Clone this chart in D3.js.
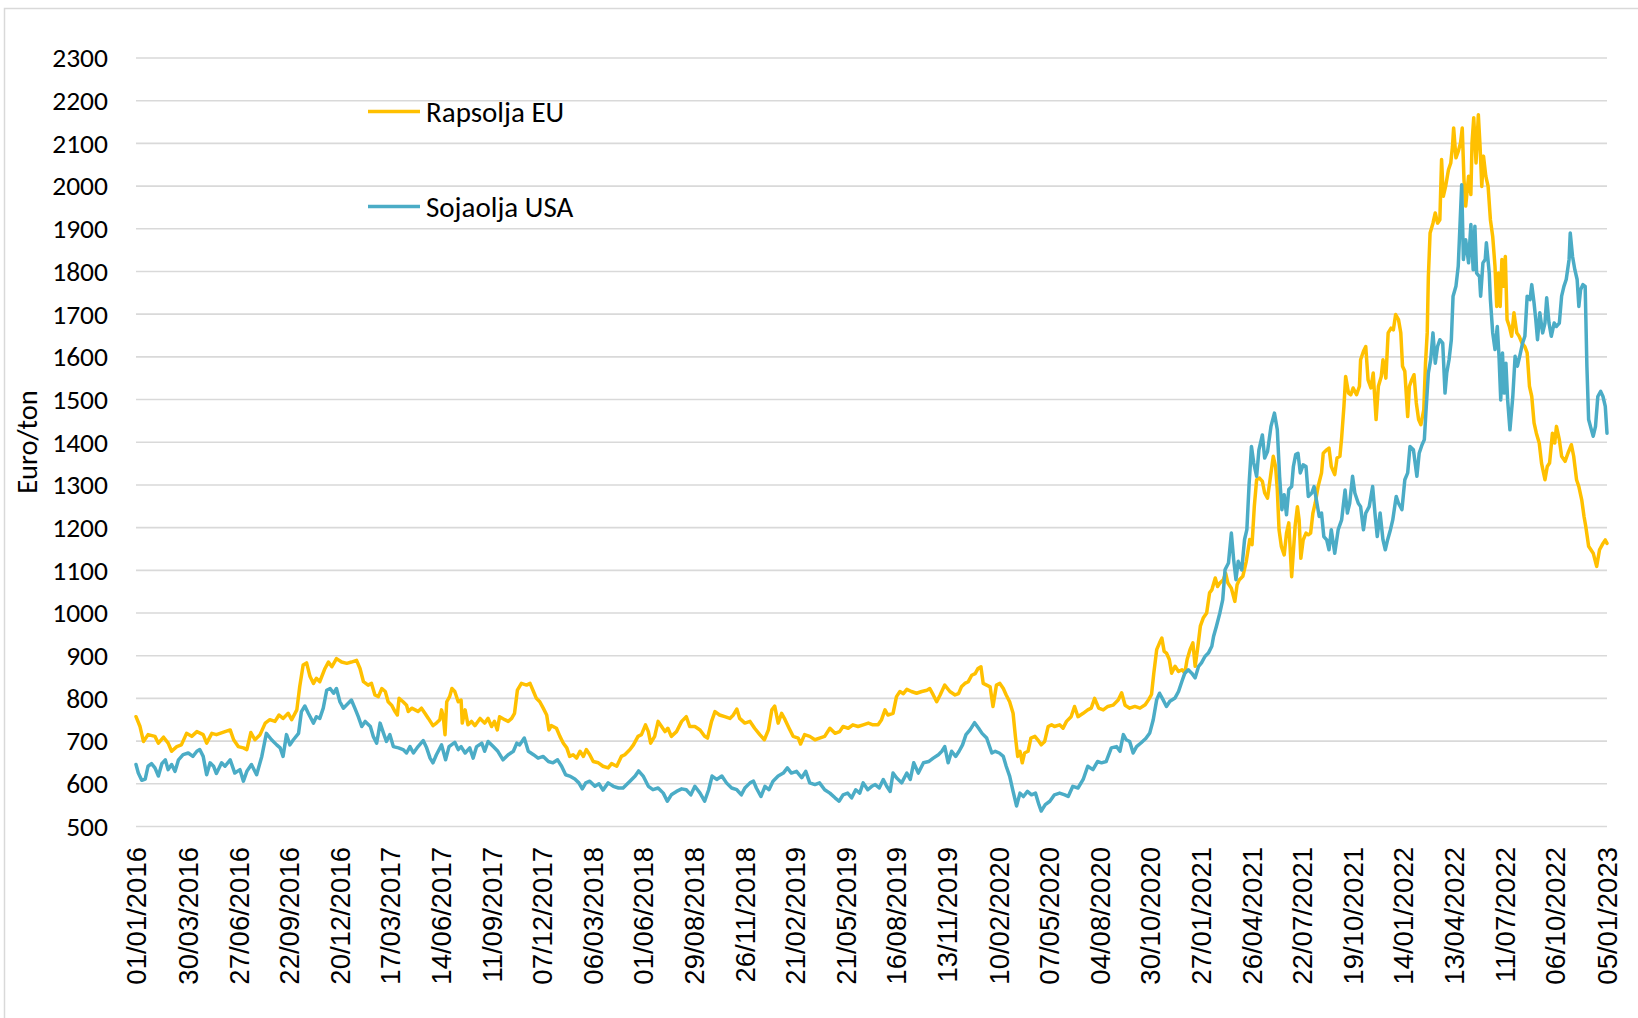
<!DOCTYPE html>
<html>
<head>
<meta charset="utf-8">
<script src="https://cdn.jsdelivr.net/npm/d3@7"></script>
<style>
  html, body { margin: 0; padding: 0; background: #ffffff; }
  svg { display: block; }
</style>
</head>
<body>
<svg id="chart" width="1638" height="1018"></svg>
<script>
// Price series: [days since 01/01/2016, euro per ton]
const startDate = new Date(2016, 0, 1);
const endDay = 2561;   // 05/01/2023

const rapsoljaEU = [
  [0,756],[7,733],[13,698],[21,714],[33,710],[39,694],[48,708],[56,694],[62,675],[71,686],[79,690],[88,717],[97,710],
  [106,721],[117,714],[123,694],[132,717],[140,714],[155,721],[164,725],[170,702],[178,686],[187,683],[193,679],[200,719],
  [207,702],[216,714],[225,741],[233,749],[242,745],[249,760],[256,752],[265,764],[271,749],[280,772],[285,826],[291,877],
  [297,882],[303,850],[309,834],[314,846],[320,838],[329,869],[335,884],[341,873],[349,892],[358,884],[367,881],[375,884],
  [384,888],[390,869],[396,838],[404,830],[410,834],
  [416,807],[422,803],[428,822],[434,815],[439,791],[445,783],[451,768],[455,760],[458,799],[465,791],[471,783],[474,768],
  [480,776],[486,772],[491,768],[497,776],[503,764],[509,752],[517,735],[523,741],[529,749],[532,772],[535,756],[538,714],
  [541,791],[546,803],[550,822],[555,815],[561,791],[566,795],[568,741],[573,772],[578,737],[584,745],[590,735],[599,752],
  [607,741],[613,752],[619,733],[624,745],[629,725],[633,756],[642,749],[648,745],[654,752],[659,764],[664,818],[671,834],
  [680,830],[686,834],[692,815],[697,799],[703,791],[709,776],[715,760],[719,725],[723,735],[732,729],[738,710],[744,694],
  [750,683],[755,663],[761,667],[767,659],[773,675],[779,663],[784,679],[790,667],[796,651],[805,648],[813,640],[822,636],
  [828,646],[837,640],[845,663],
  [851,667],[860,679],[866,690],[874,710],[880,714],[887,737],[892,721],[896,694],[903,710],[909,745],[915,733],[921,721],
  [926,729],[932,710],[941,721],[950,745],[958,756],[964,733],[973,733],[982,725],[990,710],[995,706],[1002,745],[1008,768],
  [1016,760],[1025,756],[1034,752],[1040,760],[1046,774],[1051,752],[1060,741],[1069,745],[1077,729],[1086,714],[1094,702],
  [1101,725],[1107,772],[1112,781],[1118,741],[1124,764],[1130,749],[1137,729],[1144,710],[1153,706],[1157,692],[1164,714],
  [1173,710],[1182,702],[1190,706],[1199,710],[1208,729],[1217,717],[1225,721],[1231,733],[1240,729],[1248,737],[1257,733],
  [1266,737],[1275,741],[1283,737],
  [1292,737],[1298,749],[1304,772],[1309,760],[1318,764],[1324,803],[1330,815],[1336,810],[1342,820],[1350,815],[1359,811],
  [1368,815],[1377,818],[1382,822],[1388,807],[1394,791],[1400,807],[1408,830],[1417,815],[1426,807],[1432,810],[1437,826],
  [1443,834],[1449,838],[1455,853],[1461,857],[1466,869],[1471,873],[1475,834],[1481,830],[1487,826],[1492,780],[1498,830],
  [1504,834],[1510,822],[1515,807],[1521,791],[1527,764],[1531,710],[1535,663],[1539,675],[1543,648],[1547,671],[1553,675],
  [1558,706],[1565,710],[1570,702],[1576,690],[1582,698],[1588,733],[1594,737],[1599,733],[1608,737],[1614,729],[1620,745],
  [1628,756],[1634,780],[1640,756],[1649,764],[1657,772],[1663,776],[1669,799],[1676,776],[1684,772],[1692,780],[1701,783],
  [1710,795],[1716,812],[1722,783],[1730,776],[1739,780],
  [1748,776],[1757,784],[1763,796],[1768,808],[1772,858],[1777,913],[1782,929],[1786,940],[1790,909],[1794,905],[1799,890],
  [1803,858],[1809,874],[1815,862],[1821,866],[1826,858],[1830,890],[1835,913],[1840,929],[1844,874],[1848,913],[1853,968],
  [1858,987],[1864,999],[1869,1046],[1873,1053],[1879,1081],[1883,1061],[1887,1069],[1893,1077],[1897,1092],[1901,1069],
  [1907,1057],[1913,1026],[1917,1065],[1921,1077],[1927,1085],[1933,1120],[1939,1171],[1943,1159],[1947,1249],[1951,1311],
  [1956,1315],[1961,1307],[1965,1280],[1970,1268],[1976,1327],[1980,1366],[1984,1342],[1987,1288],[1990,1194],[1994,1155],
  [1999,1135],[2003,1186],[2007,1210],
  [2012,1084],[2018,1202],[2022,1248],[2025,1217],[2028,1127],[2032,1170],[2037,1186],[2041,1182],[2045,1186],[2049,1233],
  [2053,1256],[2058,1295],[2064,1327],[2067,1373],[2073,1381],[2077,1385],[2081,1342],[2087,1323],[2091,1362],[2096,1366],
  [2099,1409],[2103,1483],[2106,1553],[2111,1514],[2115,1510],[2119,1526],[2125,1510],[2130,1530],[2132,1592],[2137,1612],
  [2141,1623],[2145,1545],[2150,1526],[2154,1561],[2159,1452],[2163,1530],[2168,1553],[2171,1592],[2176,1549],[2180,1655],
  [2185,1666],[2189,1662],[2193,1698],[2198,1686],[2202,1655],[2205,1577],[2209,1565],[2214,1459],[2217,1530],[2221,1545],
  [2225,1557],[2229,1491],[2233,1452],[2237,1440],[2242,1475],[2245,1584],[2248,1655],[2250,1787],[2253,1889],[2258,1912],
  [2262,1936],[2266,1912],
  [2270,1920],[2273,2061],[2276,1975],[2280,1998],[2285,2037],[2289,2053],[2292,2092],[2294,2135],[2298,2065],[2302,2080],
  [2306,2100],[2309,2135],[2312,2014],[2315,1952],[2320,2022],[2324,1979],[2326,2100],[2329,2159],[2333,2053],[2337,2166],
  [2340,2092],[2343,1998],[2346,2069],[2350,2022],[2354,1998],[2358,1920],[2362,1881],[2366,1811],[2369,1717],[2372,1795],
  [2375,1717],[2378,1827],[2381,1764],[2384,1834],[2387,1686],[2391,1670],[2395,1647],[2399,1702],[2404,1655],[2408,1647],
  [2413,1631],[2418,1623],[2422,1608],[2426,1530],[2430,1506],[2434,1444],[2438,1420],[2443,1397],[2447,1350],[2453,1311],
  [2457,1342],[2461,1350],[2466,1420],[2470,1397],[2473,1436],[2478,1405],[2482,1366],[2488,1354],[2493,1373],[2499,1393],
  [2503,1366],[2508,1311],[2512,1295],[2517,1264],[2521,1225],[2524,1202],[2529,1155],[2533,1147],[2537,1139],[2543,1108],
  [2548,1147],[2554,1162],[2558,1170],[2561,1162]
];

const sojaoljaUSA = [
  [0,644],[4,624],[10,607],[16,610],[21,640],[27,646],[33,636],[39,617],[45,646],[51,655],[56,632],[62,644],[68,628],
  [74,655],[82,667],[91,671],[99,663],[106,675],[111,679],[117,663],[123,620],[129,648],[135,640],[140,623],[149,648],
  [155,640],[164,655],[172,624],[181,632],[187,605],[193,628],[201,644],[210,620],[219,663],[227,717],[236,702],[245,690],
  [251,683],[256,663],[262,714],[268,690],[274,702],[283,717],[288,768],[294,781],[300,764],[309,741],[314,756],[320,752],
  [326,776],[332,818],[338,822],[344,811],[349,822],[355,791],[361,776],[367,784],[375,795],[381,776],[387,756],[393,733],
  [399,745],[408,733],[413,710],
  [419,694],[425,741],[431,717],[436,698],[442,714],[448,686],[457,683],[465,679],[471,671],[477,686],[483,671],[491,686],
  [500,700],[506,683],[512,659],[517,648],[523,667],[532,690],[539,655],[545,686],[555,696],[561,679],[566,686],[573,671],
  [581,683],[587,659],[593,686],[602,694],[607,675],[613,698],[622,686],[630,675],[639,655],[648,667],[657,675],[663,694],
  [668,690],[676,706],[683,675],[692,667],[700,659],[709,663],[718,651],[726,648],[734,655],[741,640],[748,620],[755,617],
  [764,610],[771,601],[777,587],[783,601],[790,605],[799,593],[806,599],[813,584],[822,601],[831,593],[840,589],[848,589],
  [860,605],[869,617],[875,629],[883,617],[892,593],[900,585],[909,589],[918,577],[925,558],[932,573],[941,581],[950,587],
  [958,585],[966,573],[973,593],[982,577],[990,558],[997,585],[1003,617],[1011,609],[1020,617],[1028,601],[1037,589],
  [1046,585],[1054,573],[1060,589],[1069,601],[1075,605],[1080,589],[1088,569],[1095,593],[1102,585],[1109,605],[1118,617],
  [1127,624],[1134,636],[1141,624],[1150,628],[1159,613],[1166,628],[1173,601],[1182,597],[1190,601],[1199,585],[1208,577],
  [1217,566],[1224,558],[1231,573],[1239,577],[1246,566],[1253,585],[1260,577],[1266,601],[1274,585],[1281,593],
  [1287,597],[1294,589],[1301,609],[1307,593],[1313,581],[1318,624],[1324,613],[1333,601],[1342,624],[1348,609],[1354,648],
  [1362,624],[1371,648],[1380,651],[1388,659],[1397,667],[1403,675],[1408,686],[1414,648],[1420,675],[1427,663],[1433,675],
  [1439,690],[1445,714],[1452,725],[1460,742],[1467,729],[1473,717],[1481,706],[1490,671],[1496,675],[1503,671],[1510,663],
  [1515,640],[1521,617],[1527,581],[1533,547],[1539,577],[1545,569],[1552,581],[1559,573],[1566,577],[1572,550],[1576,535],
  [1583,550],[1591,558],[1599,573],[1608,577],[1617,573],[1623,569],[1631,593],[1640,589],[1649,609],[1657,640],[1666,632],
  [1674,651],[1681,648],[1689,651],[1698,683],[1707,686],[1713,675],[1719,714],[1724,702],[1730,698],[1736,671],[1742,686],
  [1750,695],[1758,705],[1765,718],
  [1771,749],[1777,796],[1782,811],[1788,796],[1794,780],[1800,792],[1809,800],[1815,815],[1821,839],[1826,858],[1832,866],
  [1838,858],[1844,847],[1850,874],[1855,882],[1861,897],[1867,905],[1873,921],[1876,944],[1881,968],[1887,999],[1892,1030],
  [1896,1100],[1902,1116],[1907,1186],[1911,1124],[1915,1077],[1919,1120],[1925,1100],[1930,1171],[1934,1194],[1938,1303],
  [1942,1389],[1946,1350],[1951,1319],[1955,1381],[1961,1416],[1965,1362],[1970,1377],[1976,1436],[1982,1467],[1987,1428],
  [1991,1319],[1995,1241],[1999,1276],[2003,1229],[2007,1288],
  [2012,1295],[2015,1342],[2019,1370],[2023,1373],[2027,1327],[2032,1346],[2037,1342],[2041,1272],[2047,1280],[2051,1295],
  [2055,1264],[2060,1225],[2064,1233],[2068,1178],[2073,1170],[2077,1147],[2081,1194],[2087,1139],[2093,1194],[2099,1217],
  [2105,1287],[2109,1233],[2113,1256],[2118,1319],[2122,1280],[2128,1256],[2132,1248],[2137,1194],[2141,1233],[2147,1248],
  [2153,1295],[2157,1233],[2161,1178],[2166,1233],[2171,1170],[2175,1147],[2179,1170],[2184,1194],[2188,1217],[2194,1272],
  [2198,1256],[2204,1241],[2209,1311],[2214,1327],[2218,1389],[2224,1381],[2230,1319],[2234,1373],[2239,1393],[2243,1405],
  [2246,1475],[2250,1561],[2254,1592],[2258,1655],[2262,1584],[2266,1623],
  [2270,1639],[2275,1631],[2279,1514],[2282,1561],[2286,1592],[2290,1639],[2293,1741],[2298,1764],[2302,1811],[2305,1905],
  [2308,2002],[2311,1827],[2315,1873],[2320,1819],[2324,1909],[2328,1803],[2331,1905],[2334,1795],[2339,1787],[2341,1741],
  [2345,1819],[2349,1827],[2351,1866],[2356,1795],[2358,1733],[2362,1655],[2366,1616],[2370,1670],[2373,1600],[2376,1498],
  [2379,1608],[2382,1514],[2385,1584],[2388,1498],[2392,1428],[2397,1506],[2401,1600],[2405,1577],[2409,1600],[2414,1631],
  [2418,1647],[2422,1741],[2427,1733],[2430,1768],[2434,1725],[2437,1686],[2440,1639],[2444,1702],[2449,1655],[2453,1678],
  [2456,1737],[2460,1678],[2464,1647],[2469,1678],[2473,1670],[2478,1678],[2482,1741],[2486,1764],[2490,1780],[2495,1827],
  [2497,1889],[2501,1834],[2505,1803],[2509,1780],[2512,1717],[2515,1756],[2519,1768],[2523,1764],[2526,1577],[2529,1452],
  [2533,1432],[2537,1413],[2541,1436],[2545,1506],[2550,1518],[2554,1506],[2558,1483],[2561,1420]
];

const dateTickLabels = [
  "01/01/2016", "30/03/2016", "27/06/2016", "22/09/2016", "20/12/2016", "17/03/2017", "14/06/2017", "11/09/2017",
  "07/12/2017", "06/03/2018", "01/06/2018", "29/08/2018", "26/11/2018", "21/02/2019", "21/05/2019", "16/08/2019",
  "13/11/2019", "10/02/2020", "07/05/2020", "04/08/2020", "30/10/2020", "27/01/2021", "26/04/2021", "22/07/2021",
  "19/10/2021", "14/01/2022", "13/04/2022", "11/07/2022", "06/10/2022", "05/01/2023"
];

const valueTicks = [500, 600, 700, 800, 900, 1000, 1100, 1200, 1300, 1400, 1500, 1600, 1700, 1800, 1900, 2000, 2100, 2200, 2300];

const seriesNames = ["Rapsolja EU", "Sojaolja USA"];
const seriesColors = ["#FFC000", "#4BACC6"];

// =======================================================================================
/// @brief Draw the two oil price lines with gridlines, axes and legend.

function drawChart(svgIdName)
 {
  const svg = d3.select("#" + svgIdName);
  const left = 136, right = 1607, top = 57.5, bottom = 826;
  const calibriLike = "Carlito, Lato, 'Open Sans', sans-serif";

  svg.append("rect")
    .attr("width", 1638).attr("height", 1018)
    .attr("fill", "#ffffff");

  // chart area border (only top and left edge fall inside the picture)
  svg.append("rect")
    .attr("x", 4.5).attr("y", 8.5)
    .attr("width", 1700).attr("height", 1100)
    .attr("fill", "none")
    .attr("stroke", "#D9D9D9")
    .attr("stroke-width", 1.5);

  const parseLabel = d3.timeParse("%d/%m/%Y");

  // Scales
  const xScale = d3.scaleTime()
    .domain([startDate, d3.timeDay.offset(startDate, endDay)])
    .range([left, right]);
  const yScale = d3.scaleLinear().domain([500, 2300]).range([bottom, top]);

  // Y axis with full-width gridlines
  const yAxis = d3.axisLeft(yScale)
    .tickValues(valueTicks)
    .tickSize(-(right - left))
    .tickPadding(28)
    .tickFormat(d3.format("d"));

  const gy = svg.append("g")
    .attr("transform", `translate(${left},0)`)
    .call(yAxis);
  gy.select(".domain").remove();
  gy.selectAll(".tick line")
    .attr("stroke", "#D9D9D9")
    .attr("stroke-width", 1.6);
  gy.selectAll(".tick text")
    .attr("font-family", calibriLike)
    .attr("font-size", 27.5)
    .attr("fill", "#000000")
    .attr("dy", "0.34em");

  // X axis: rotated date labels
  const xAxis = d3.axisBottom(xScale)
    .tickValues(dateTickLabels.map(parseLabel))
    .tickSize(0)
    .tickFormat((d, i) => dateTickLabels[i]);

  const gx = svg.append("g")
    .attr("transform", `translate(0,${bottom})`)
    .call(xAxis);
  gx.select(".domain").remove();
  gx.selectAll(".tick text")
    .attr("font-family", "'Liberation Sans', Arial, sans-serif")
    .attr("font-size", 27.5)
    .attr("fill", "#000000")
    .attr("text-anchor", "end")
    .attr("transform", "rotate(-90)")
    .attr("x", -21)
    .attr("y", 0)
    .attr("dy", "0.36em");

  // Axis title
  svg.append("text")
    .attr("transform", "translate(27,442) rotate(-90)")
    .attr("text-anchor", "middle")
    .attr("dy", "0.35em")
    .attr("font-family", calibriLike)
    .attr("font-size", 28.5)
    .attr("fill", "#000000")
    .text("Euro/ton");

  // Line generator
  const lineGenerator = d3.line()
    .x(d => xScale(d3.timeDay.offset(startDate, d[0])))
    .y(d => yScale(d[1]));

  [rapsoljaEU, sojaoljaUSA].forEach((values, i) => {
    svg.append("path")
      .datum(values)
      .attr("fill", "none")
      .attr("stroke", seriesColors[i])
      .attr("stroke-width", 3.5)
      .attr("stroke-linejoin", "round")
      .attr("stroke-linecap", "round")
      .attr("d", lineGenerator);
  });

  // Legend
  const legendY = [111.5, 206.5];
  seriesNames.forEach((name, i) => {
    svg.append("line")
      .attr("x1", 368).attr("x2", 420)
      .attr("y1", legendY[i]).attr("y2", legendY[i])
      .attr("stroke", seriesColors[i])
      .attr("stroke-width", 3.5);
    svg.append("text")
      .attr("x", 426).attr("y", legendY[i])
      .attr("dy", "0.35em")
      .attr("font-family", calibriLike)
      .attr("font-size", 29)
      .attr("fill", "#000000")
      .text(name);
  });
 }

drawChart("chart");
</script>
</body>
</html>
